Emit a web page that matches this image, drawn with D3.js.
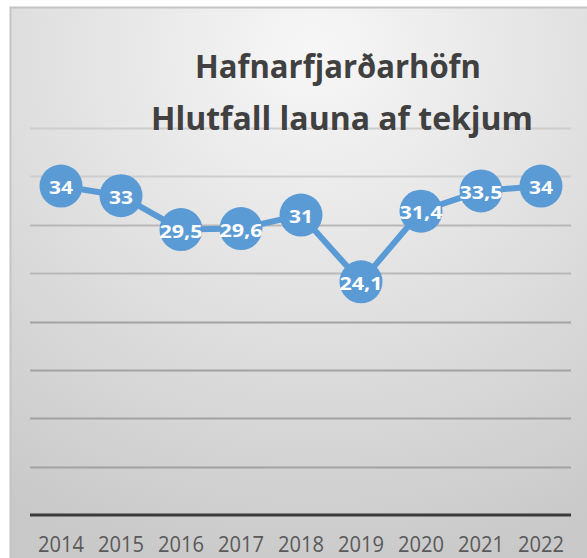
<!DOCTYPE html>
<html>
<head>
<meta charset="utf-8">
<script src="https://cdn.jsdelivr.net/npm/d3@7"></script>
<style>
  body { margin: 0; background: #fff; }
  svg { display: block; }
</style>
</head>
<body>
<div id="chart"></div>
<script>
// data
const years = ["2014", "2015", "2016", "2017", "2018", "2019", "2020", "2021", "2022"]
const values = [34, 33, 29.5, 29.6, 31, 24.1, 31.4, 33.5, 34]
const yTicks = [0, 5, 10, 15, 20, 25, 30, 35, 40]
const titleLines = ["Hafnarfjarðarhöfn", "Hlutfall launa af tekjum"]

const width = 587
const height = 558
const margin = {top: 128, right: 16, bottom: 43, left: 31}

const svg = d3.select("#chart")
    .append("svg")
    .attr("width", width)
    .attr("height", height)

// background gradient of the chart area
const defs = svg.append("defs")
const grad = defs.append("radialGradient")
    .attr("id", "bg")
    .attr("cx", "52%").attr("cy", "8%").attr("r", "95%")
grad.append("stop").attr("offset", "0%").attr("stop-color", "#f7f7f7")
grad.append("stop").attr("offset", "55%").attr("stop-color", "#dedede")
grad.append("stop").attr("offset", "100%").attr("stop-color", "#c9c9c9")

svg.append("rect")
    .attr("x", 10.5).attr("y", 7.5)
    .attr("width", width).attr("height", height)
    .attr("fill", "url(#bg)")
    .attr("stroke", "#c4c4c4")
    .attr("stroke-width", 2)

// scales
const x = d3.scaleBand()
    .domain(years)
    .range([margin.left, width - margin.right])

const y = d3.scaleLinear()
    .domain([0, 40])
    .range([height - margin.bottom, margin.top])

// gridlines
svg.append("g")
    .selectAll("line")
    .data(yTicks.filter(d => d > 0))
    .join("line")
    .attr("x1", margin.left - 1)
    .attr("x2", width - margin.right)
    .attr("y1", d => Math.round(y(d)) + 0.5)
    .attr("y2", d => Math.round(y(d)) + 0.5)
    .attr("stroke", d => d >= 35 ? "#cdcdcd" : (d >= 25 ? "#b8b8b8" : "#a2a2a2"))
    .attr("stroke-width", 2)

// x axis
const xAxis = svg.append("g")
    .attr("transform", `translate(0,${y(0)})`)
    .call(d3.axisBottom(x).tickSize(0).tickPadding(0))
xAxis.select(".domain")
    .attr("stroke", "#3a3a3a")
    .attr("stroke-width", 3)
    .attr("d", `M${margin.left - 1},0H${width - margin.right}`)
xAxis.selectAll("text")
    .attr("font-family", "'Open Sans', sans-serif")
    .attr("font-size", 21)
    .attr("fill", "#595959")
    .attr("y", 37)
    .attr("dy", 0)
    .attr("textLength", 46)
    .attr("lengthAdjust", "spacingAndGlyphs")

// title
svg.append("g")
    .selectAll("text")
    .data(titleLines)
    .join("text")
    .attr("x", (d, i) => i === 0 ? 338 : 342)
    .attr("y", (d, i) => 78 + i * 52)
    .attr("text-anchor", "middle")
    .attr("font-family", "'Open Sans', sans-serif")
    .attr("font-weight", "bold")
    .attr("font-size", 32)
    .attr("fill", "#404040")
    .attr("textLength", (d, i) => i === 0 ? 286 : 382)
    .attr("lengthAdjust", "spacingAndGlyphs")
    .text(d => d)

const pts = years.map((yr, i) => ({year: yr, value: values[i]}))
const cx = d => x(d.year) + x.bandwidth() / 2

// line
svg.append("path")
    .datum(pts)
    .attr("fill", "none")
    .attr("stroke", "#5b9bd5")
    .attr("stroke-width", 6)
    .attr("stroke-linejoin", "round")
    .attr("d", d3.line().x(cx).y(d => y(d.value)))

// markers and labels
const node = svg.append("g")
    .selectAll("g")
    .data(pts)
    .join("g")
    .attr("transform", d => `translate(${cx(d)},${y(d.value)})`)

node.append("circle")
    .attr("r", 21.5)
    .attr("fill", "#5b9bd5")

node.append("text")
    .attr("text-anchor", "middle")
    .attr("y", 8)
    .attr("font-family", "'Open Sans', sans-serif")
    .attr("font-weight", "bold")
    .attr("font-size", 18)
    .attr("fill", "#fff")
    .attr("textLength", d => String(d.value).length > 2 ? 43 : 24)
    .attr("lengthAdjust", "spacingAndGlyphs")
    .text(d => String(d.value).replace(".", ","))
</script>
</body>
</html>
